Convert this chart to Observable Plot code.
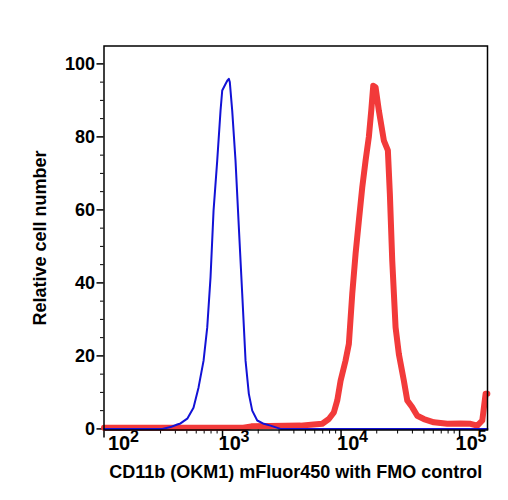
<!DOCTYPE html>
<html><head><meta charset="utf-8">
<script src="https://cdn.jsdelivr.net/npm/d3@7"></script>
<script src="https://cdn.jsdelivr.net/npm/@observablehq/plot@0.6"></script>
<style>body{margin:0;background:#fff}</style>
</head><body><div id="chart"></div>
<script>
// FMO control (blue)
const blueX = [100, 310, 364, 415, 442, 504, 569, 627, 692, 743, 792, 840, 902, 962, 994, 1060, 1096, 1130, 1152, 1207, 1287, 1373, 1466, 1564, 1667, 1781, 1963, 2231, 2541, 3086, 172000];
const blueY = [0, 0, 0.5, 1.2, 1.5, 2.8, 5.8, 11.3, 18.7, 27.8, 41.5, 59.8, 73.5, 87.2, 92.7, 94.5, 95.4, 95.9, 95.0, 87.2, 73.5, 55.2, 37.0, 18.7, 9.6, 5.0, 2.3, 1.4, 0.9, 0, 0];
// CD11b stained (red)
const redX = [100, 1500, 1750, 2500, 4550, 5860, 6940, 7890, 8690, 9290, 9910, 10910, 11640, 12430, 13260, 14130, 15100, 16100, 17160, 17980, 18690, 19550, 20840, 22970, 24830, 25810, 27040, 28840, 30740, 33880, 36200, 39890, 43950, 49960, 60680, 78730, 101950, 123800, 141100, 155400, 165800, 171500];
const redY = [0.3, 0.3, 0.7, 0.8, 0.9, 1.2, 1.4, 2.7, 4.5, 7.8, 13.2, 18.7, 23.3, 37.0, 48.0, 57.0, 66.2, 73.5, 80.0, 87.2, 94.0, 93.6, 87.2, 79.0, 76.3, 64.4, 46.0, 27.8, 20.5, 13.2, 7.8, 5.9, 3.6, 2.7, 1.8, 1.4, 1.5, 1.4, 0.9, 2.3, 9.6, 9.6];

const majorTicks = [100, 1000, 10000, 100000];
const tickBase = "10";
const tickExponents = ["2", "3", "4", "5"];
const minorXTicks = [300,400,500,600,700,800,900, 2000,3000,4000,5000,6000,7000,8000,9000, 20000,30000,40000,50000,60000,70000,80000,90000];
const yTicks = [0, 20, 40, 60, 80, 100];
const yMinorTicks = [5, 10, 15, 25, 30, 35, 45, 50, 55, 65, 70, 75, 85, 90, 95];
const xTitle = "CD11b (OKM1) mFluor450 with FMO control";
const yTitle = "Relative cell number";

const red = redX.map((x, i) => ({x, y: redY[i]}));
const blue = blueX.map((x, i) => ({x, y: blueY[i]}));
const labels = majorTicks.map((t, i) => ({t, e: tickExponents[i]}));

const chart = Plot.plot({
  width: 508, height: 500,
  marginLeft: 103.5, marginRight: 21, marginTop: 45.5, marginBottom: 70.5,
  x: {type: "log", domain: [100, 172000]},
  y: {domain: [-0.3, 104.9]},
  style: {fontFamily: "'Liberation Sans', Arial, sans-serif", fontWeight: "bold", color: "black", background: "white"},
  marks: [
    Plot.axisX({ticks: minorXTicks, tickSize: 4, fill: "none", label: null, strokeWidth: 1}),
    Plot.axisX({ticks: majorTicks, tickSize: 8, fill: "none", label: null, strokeWidth: 1.5}),
    Plot.axisY({ticks: yMinorTicks, tickSize: 3.5, fill: "none", label: null, strokeWidth: 1}),
    Plot.axisY({ticks: yTicks, tickSize: 7, tickPadding: 2, fontSize: 18, label: null, strokeWidth: 1.5}),
    Plot.text(labels.slice(0, 1), {x: "t", frameAnchor: "bottom", text: () => tickBase, textAnchor: "start", dx: 4, dy: 20, fontSize: 20}),
    Plot.text(labels.slice(0, 1), {x: "t", frameAnchor: "bottom", text: "e", textAnchor: "start", dx: 26, dy: 12, fontSize: 16}),
    Plot.text(labels.slice(1), {x: "t", frameAnchor: "bottom", text: () => tickBase, textAnchor: "start", dx: -4, dy: 20, fontSize: 20}),
    Plot.text(labels.slice(1), {x: "t", frameAnchor: "bottom", text: "e", textAnchor: "start", dx: 18, dy: 12, fontSize: 16}),
    Plot.text([xTitle], {frameAnchor: "bottom", textAnchor: "middle", dy: 48, fontSize: 18}),
    Plot.text([yTitle], {frameAnchor: "left", textAnchor: "middle", dx: -64, rotate: -90, fontSize: 18}),
    Plot.line(red, {x: "x", y: "y", stroke: "#f23a3a", strokeWidth: 6, strokeLinejoin: "round"}),
    Plot.line(blue, {x: "x", y: "y", stroke: "#1212d6", strokeWidth: 2, strokeLinejoin: "round"}),
    Plot.frame({stroke: "black", strokeWidth: 1.5})
  ]
});
document.getElementById("chart").appendChild(chart);
</script>
</body></html>
